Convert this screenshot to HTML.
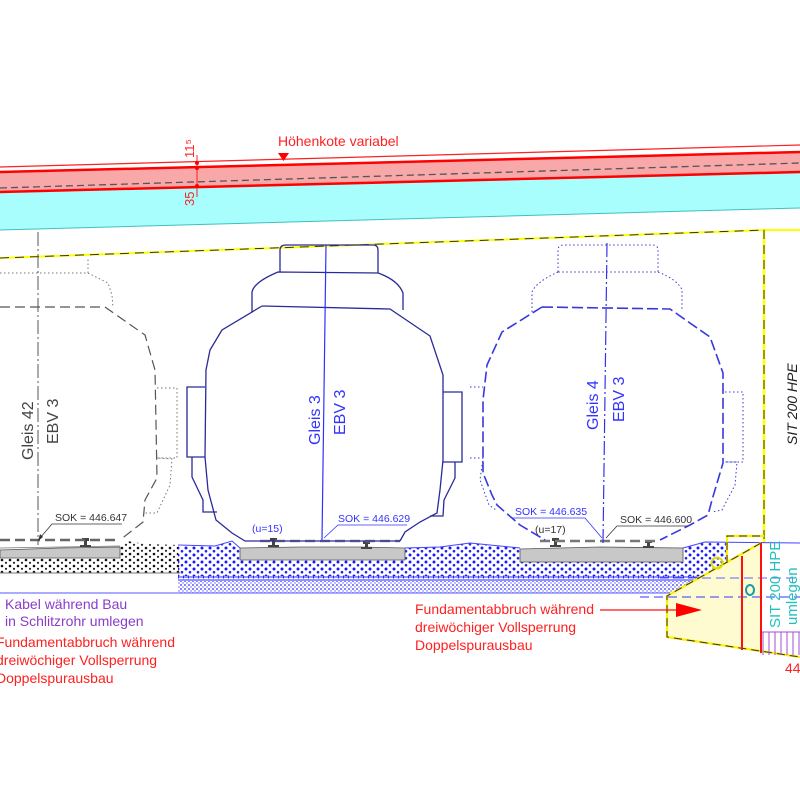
<!DOCTYPE html>
<html><head><meta charset="utf-8"><style>
html,body{margin:0;padding:0;background:#fff}
svg{display:block}
text{font-family:"Liberation Sans",sans-serif}
</style></head><body>
<svg width="800" height="800" viewBox="0 0 800 800" xmlns="http://www.w3.org/2000/svg">
<defs>
<pattern id="bk" width="8" height="6" patternUnits="userSpaceOnUse">
<circle cx="2" cy="2" r="1.3" fill="#111"/><circle cx="6" cy="4.8" r="1.1" fill="#222"/></pattern>
<pattern id="bl" width="8" height="7" patternUnits="userSpaceOnUse">
<circle cx="2" cy="2" r="1.5" fill="#1a1aff"/><circle cx="6" cy="5.2" r="1.3" fill="#2222ee"/></pattern>
<pattern id="blf" width="4" height="4" patternUnits="userSpaceOnUse">
<circle cx="1" cy="1" r="0.9" fill="#2b2bff"/><circle cx="3" cy="3" r="0.7" fill="#5555ff"/></pattern>
<pattern id="pu" width="6" height="10" patternUnits="userSpaceOnUse">
<line x1="1" y1="0" x2="1" y2="10" stroke="#a050d0" stroke-width="1"/></pattern>
</defs>

<polygon points="0,192 800,172 800,208 0,230" fill="#a8fdfd"/>
<line x1="0" y1="230" x2="800" y2="208" stroke="#40c0c0" stroke-width="1"/>
<polygon points="0,172 800,152 800,172 0,192" fill="#f8a8a8"/>
<line x1="0" y1="167" x2="800" y2="145" stroke="#ff2020" stroke-width="1.2"/>
<line x1="0" y1="172" x2="800" y2="152" stroke="#ff0000" stroke-width="2.5"/>
<line x1="0" y1="192" x2="800" y2="172" stroke="#ff0000" stroke-width="2.5"/>
<line x1="0" y1="188" x2="800" y2="163" stroke="#555" stroke-width="1.3" stroke-dasharray="7,4"/>
<line x1="197" y1="155" x2="197" y2="197" stroke="#ff2020" stroke-width="1"/>
<circle cx="197" cy="163" r="2" fill="#f00"/><circle cx="197" cy="168" r="2" fill="#f00"/><circle cx="197" cy="186" r="2" fill="#f00"/>
<text transform="translate(194,158) rotate(-90)" font-size="13" fill="#ff2020">11⁵</text>
<text transform="translate(194,206) rotate(-90)" font-size="13" fill="#ff2020">35</text>
<text x="278" y="146" font-size="14" fill="#ff2020">Höhenkote variabel</text>
<polygon points="278,153 289,153 283.5,161" fill="#f00"/>

<line x1="0" y1="258" x2="765" y2="230" stroke="#ffff00" stroke-width="2"/>
<line x1="0" y1="258" x2="765" y2="230" stroke="#333" stroke-width="1" stroke-dasharray="9,6"/>
<line x1="765" y1="230" x2="800" y2="230" stroke="#ffff00" stroke-width="2"/>
<line x1="764" y1="230" x2="764" y2="543" stroke="#ffff00" stroke-width="2.5"/>
<line x1="764" y1="230" x2="764" y2="543" stroke="#333" stroke-width="1" stroke-dasharray="9,6"/>

<polygon points="0,550 60,548 120,547 120,558 0,558" fill="#c8c8c8" stroke="#555" stroke-width="0.8"/>
<rect x="0" y="558" width="180" height="15" fill="url(#bk)"/>
<polygon points="120,547 127,541 145,544 178,545 178,558 120,558" fill="url(#bk)"/>
<line x1="0" y1="573" x2="180" y2="573" stroke="#777" stroke-width="1"/>
<line x1="0" y1="548" x2="120" y2="546" stroke="#777" stroke-width="0.8"/>

<polygon points="178,545 215,546 232,541 240,548 240,560 405,560 405,548 440,547 470,543 500,546 520,548 520,562 683,562 683,548 705,542 727,542 727,563 705,576 178,576" fill="url(#bl)"/>
<polyline points="178,545 215,546 232,541 240,548" fill="none" stroke="#4444ff" stroke-width="1"/>
<polyline points="405,548 440,547 470,543 500,546 520,548" fill="none" stroke="#4444ff" stroke-width="1"/>
<polyline points="683,548 705,542 800,543" fill="none" stroke="#4444ff" stroke-width="1"/>
<line x1="178" y1="577" x2="700" y2="577" stroke="#2a2aff" stroke-width="1"/>
<line x1="178" y1="580" x2="695" y2="580" stroke="#2a2aff" stroke-width="1"/>
<line x1="178" y1="577" x2="695" y2="577" stroke="#2a2aff" stroke-width="3" stroke-dasharray="1,4"/>
<polygon points="178,581 695,581 670,593 178,593" fill="url(#blf)"/>
<line x1="0" y1="593" x2="670" y2="593" stroke="#5555ff" stroke-width="1"/>
<polygon points="240,548 300,547 360,547 405,548 405,560 240,560" fill="#c8c8c8" stroke="#555" stroke-width="0.8"/>
<polygon points="520,549 600,547 683,548 683,562 520,562" fill="#c8c8c8" stroke="#555" stroke-width="0.8"/>
<g fill="#444"><rect x="82" y="538" width="7" height="3"/><rect x="84" y="540" width="3" height="6"/><rect x="80" y="545" width="11" height="2"/>
<rect x="270" y="538" width="7" height="3"/><rect x="272" y="540" width="3" height="6"/><rect x="268" y="545" width="11" height="2"/>
<rect x="363" y="541" width="7" height="3"/><rect x="365" y="543" width="3" height="5"/><rect x="361" y="547" width="11" height="2"/>
<rect x="552" y="538" width="7" height="3"/><rect x="554" y="540" width="3" height="6"/><rect x="550" y="545" width="11" height="2"/>
<rect x="645" y="540" width="7" height="3"/><rect x="647" y="542" width="3" height="5"/><rect x="643" y="546" width="11" height="2"/></g>

<line x1="0" y1="540" x2="120" y2="540" stroke="#666" stroke-width="2.5" stroke-dasharray="10,5"/>
<line x1="260" y1="541" x2="400" y2="541" stroke="#888" stroke-width="2.5" stroke-dasharray="10,5"/>
<line x1="540" y1="541" x2="660" y2="541" stroke="#777" stroke-width="2.5" stroke-dasharray="10,5"/>

<line x1="38" y1="232" x2="38" y2="545" stroke="#555" stroke-width="1" stroke-dasharray="14,3,2,3"/>
<polyline points="0,307 105,307 145,335 155,370 157,478 145,500 143,522 120,540" fill="none" stroke="#555" stroke-width="1.2" stroke-dasharray="10,5"/>
<polyline points="0,273 88,273 88,258" fill="none" stroke="#777" stroke-width="1" stroke-dasharray="1.5,2.5"/>
<polyline points="88,273 108,283 112,295 113,308" fill="none" stroke="#777" stroke-width="1" stroke-dasharray="1.5,2.5"/>
<polyline points="157,388 177,388 177,458 157,458 172,459 170,485 157,513 145,513" fill="none" stroke="#777" stroke-width="1" stroke-dasharray="1.5,2.5"/>
<text transform="translate(33,460) rotate(-90)" font-size="16" fill="#444">Gleis 42</text>
<text transform="translate(58,444) rotate(-90)" font-size="16" fill="#444">EBV 3</text>
<text x="55" y="521" font-size="10.5" fill="#333">SOK = 446.647</text>
<polyline points="122,524 52,524 40,538" fill="none" stroke="#333" stroke-width="0.8"/>
<polygon points="38,541 40,534 43,537" fill="#333"/>

<g fill="none" stroke="#2a2a9a" stroke-width="1.3">
<path d="M280,272 L280,250 Q280,245 286,245 L373,245 Q378,245 378,250 L378,273"/>
<path d="M252,312 L252,292 Q254,282 278,272 L378,273 Q398,280 403,293 L403,310"/>
<path d="M262,306 L390,309 L430,336 L443,375 L443,460 L440,490 L437,513 L420,522 L405,532 L400,541"/>
<path d="M262,306 L222,330 L210,350 L206,370 L205,457 L208,490 L216,520 L232,533 L245,541 L400,541"/>
<path d="M205,387 L187,387 L187,457 L205,457 M192,457 L192,477 L203,500 L203,512 L217,512"/>
<path d="M443,392 L462,392 L462,462 L443,462 M455,462 L455,478 L444,500 L443,516 L430,516"/>
</g>
<line x1="326" y1="245" x2="322" y2="540" stroke="#3030ff" stroke-width="1.2"/>
<text transform="translate(320,445) rotate(-90)" font-size="16" fill="#3333ff">Gleis 3</text>
<text transform="translate(345,435) rotate(-90)" font-size="16" fill="#3333ff">EBV 3</text>
<text x="338" y="522" font-size="10.5" fill="#3333ff">SOK = 446.629</text>
<polyline points="407,525 338,525 324,538" fill="none" stroke="#3333ff" stroke-width="0.8"/>
<text x="252" y="532" font-size="10.5" fill="#3333ff">(u=15)</text>

<line x1="607" y1="243" x2="603" y2="543" stroke="#3333ee" stroke-width="1.2" stroke-dasharray="14,3,2,3"/>
<g fill="none" stroke="#3838d0" stroke-width="1" stroke-dasharray="1.5,2.5">
<path d="M558,272 L558,250 Q558,245 564,245 L652,245 Q658,245 658,250 L658,272 L558,272"/>
<path d="M532,312 L532,292 Q536,282 558,272 M658,272 Q678,280 682,290 L682,310"/>
<path d="M725,392 L743,392 L743,462 L725,462 L737,462 L735,485 L722,510 L712,512"/>
<path d="M470,387 L483,387 M470,458 L483,458 L480,480 L489,505 L496,510"/>
</g>
<path d="M542,307 L670,309 L710,337 L723,373 L723,463 L712,500 L708,515 L690,525 L660,540 M542,307 L502,332 L487,365 L483,400 L483,473 L492,495 L497,505 L520,525 L545,540" fill="none" stroke="#3838e0" stroke-width="1.6" stroke-dasharray="11,4"/>
<text transform="translate(598,430) rotate(-90)" font-size="16" fill="#3333ff">Gleis 4</text>
<text transform="translate(624,422) rotate(-90)" font-size="16" fill="#3333ff">EBV 3</text>
<text x="515" y="515" font-size="10.5" fill="#3333ff">SOK = 446.635</text>
<polyline points="512,518 585,518 602,538" fill="none" stroke="#3333ff" stroke-width="0.8"/>
<text x="620" y="523" font-size="10.5" fill="#333">SOK = 446.600</text>
<polyline points="688,526 617,526 606,538" fill="none" stroke="#333" stroke-width="0.8"/>
<text x="535" y="533" font-size="10.5" fill="#333">(u=17)</text>

<text transform="translate(797,445) rotate(-90)" font-size="14" font-style="italic" fill="#222">SIT 200 HPE</text>

<polygon points="667,596 761,543 761,652 667,637" fill="#fffbd0"/>
<line x1="660" y1="578" x2="800" y2="578" stroke="#6060ff" stroke-width="1" stroke-dasharray="9,5"/>
<line x1="640" y1="597" x2="800" y2="597" stroke="#3333ff" stroke-width="1" stroke-dasharray="9,5"/>
<g stroke="#ffee00" stroke-width="2.2" fill="none"><polyline points="761,543 667,596 667,637 800,657"/><polyline points="727,563 727,536 764,536"/></g>
<g stroke="#333" stroke-width="1" fill="none" stroke-dasharray="8,5"><polyline points="761,543 667,596 667,637 800,657"/><polyline points="727,563 727,536 764,536"/></g>
<line x1="742" y1="556" x2="742" y2="650" stroke="#ff1010" stroke-width="2"/>
<line x1="761" y1="543" x2="761" y2="653" stroke="#ff1010" stroke-width="2"/>
<rect x="762" y="632" width="38" height="23" fill="url(#pu)"/>
<line x1="762" y1="632" x2="800" y2="632" stroke="#a050d0" stroke-width="1"/>
<circle cx="717" cy="563" r="5.5" fill="none" stroke="#dddd00" stroke-width="2"/>
<ellipse cx="750" cy="590" rx="4" ry="5" fill="none" stroke="#10a0b0" stroke-width="2"/>
<text transform="translate(780,628) rotate(-90)" font-size="15" fill="#20c0c0">SIT 200 HPE</text>
<text transform="translate(797,625) rotate(-90)" font-size="15" fill="#20c0c0">umlegen</text>
<line x1="600" y1="610" x2="680" y2="610" stroke="#ff1010" stroke-width="1.3"/>
<polygon points="676,603 702,610 676,617" fill="#ff0000"/>
<text x="785" y="673" font-size="14" fill="#ff2020">44</text>

<g font-size="14">
<text x="5" y="609" fill="#8a3cc8">Kabel während Bau</text>
<text x="5" y="626" fill="#8a3cc8">in Schlitzrohr umlegen</text>
<text x="-4" y="647" fill="#ff2020">Fundamentabbruch während</text>
<text x="-4" y="665" fill="#ff2020">dreiwöchiger Vollsperrung</text>
<text x="-4" y="683" fill="#ff2020">Doppelspurausbau</text>
<text x="415" y="614" fill="#ff2020">Fundamentabbruch während</text>
<text x="415" y="632" fill="#ff2020">dreiwöchiger Vollsperrung</text>
<text x="415" y="650" fill="#ff2020">Doppelspurausbau</text>
</g>
</svg>
</body></html>
